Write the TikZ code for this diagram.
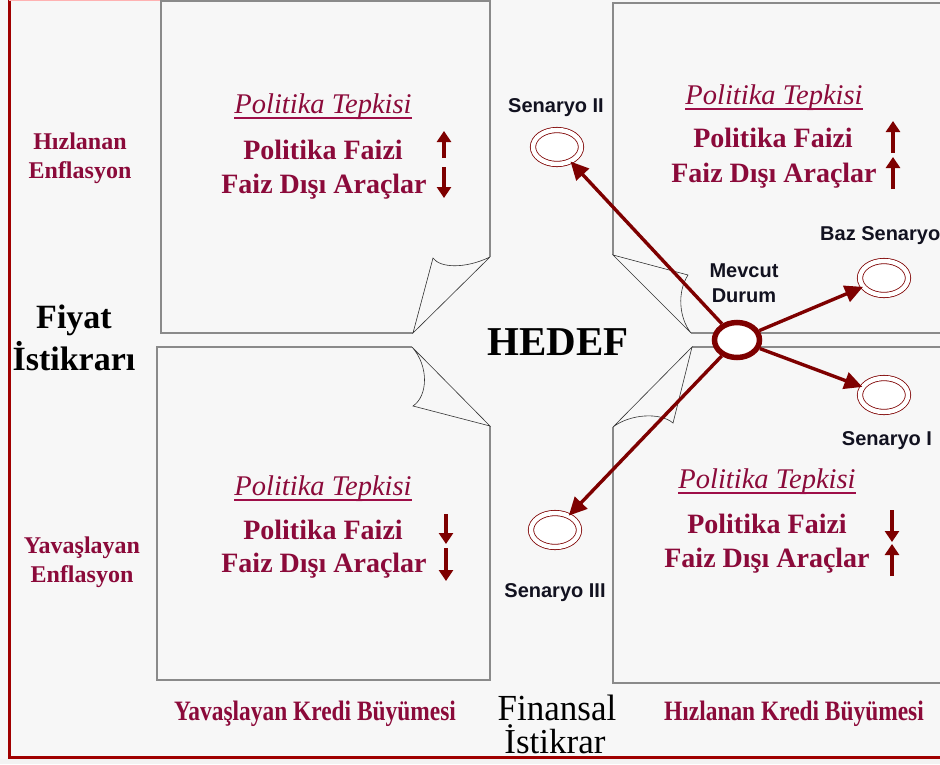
\documentclass[tikz,border=0pt]{standalone}
\usepackage{fontspec}
\setmainfont{Liberation Serif}
\newfontfamily\sansf{Liberation Sans}
\usetikzlibrary{shapes.geometric,arrows.meta}
\definecolor{crim}{HTML}{8B0A3A}
\definecolor{uline}{HTML}{9E0E48}
\definecolor{dred}{HTML}{7E0000}
\definecolor{bordred}{HTML}{A00000}
\definecolor{bg}{HTML}{F7F7F7}
\definecolor{bgl}{HTML}{F3F3F3}
\definecolor{boxgray}{HTML}{8A8A8A}
\definecolor{navy}{HTML}{121220}
\tikzset{
  boxline/.style={draw=boxgray,line width=1.6pt,line join=miter},
  foldline/.style={draw=black!80,line width=0.6pt},
  ptitle/.style={font=\fontsize{28.5}{30}\selectfont\itshape,text=crim,inner sep=0,anchor=base},
  pline/.style={font=\fontsize{28}{30}\selectfont\bfseries,text=crim,inner sep=0,anchor=base},
  ulinestyle/.style={draw=uline,line width=2.8pt},
  sidelbl/.style={font=\fontsize{24}{26}\selectfont\bfseries,text=crim,inner sep=0,anchor=base},
  biglbl/.style={font=\fontsize{34}{36}\selectfont\bfseries,text=black,inner sep=0,anchor=base},
  hedeflbl/.style={font=\fontsize{41}{43}\selectfont\bfseries,text=black,inner sep=0,anchor=base},
  botlbl/.style={font=\fontsize{26}{30}\selectfont\bfseries,text=crim,inner sep=0,anchor=base},
  finlbl/.style={font=\fontsize{35}{38}\selectfont,text=black,inner sep=0,anchor=base},
  sanslbl/.style={font=\sansf\bfseries\fontsize{20}{22}\selectfont,text=navy,inner sep=0,anchor=base},
  ind/.style={-{Triangle[width=14pt,length=11pt]},line width=3.6pt,draw=dred},
  scen/.style={ellipse,draw=dred,line width=0.8pt,double=white,double distance=4.5pt,fill=white,minimum width=48pt,minimum height=34pt,inner sep=0},
  mevstyle/.style={ellipse,draw=dred,line width=5.5pt,fill=white,minimum width=45pt,minimum height=35pt,inner sep=0},
  scarrow/.style={-{Triangle[width=17pt,length=18pt]},line width=3.4pt,draw=dred}
}
\begin{document}
\begin{tikzpicture}[x=1pt,y=-1pt]
\clip (0,0) rectangle (940,764);
\fill[bg] (0,0) rectangle (940,764);
\fill[bgl] (0,758.5) rectangle (940,764);
% outer border
\draw[bordred,line width=3pt] (9,-3) -- (9,757) -- (945,757);
\draw[red!30,line width=1.2pt] (9,0.6) -- (161,0.6);

% top-left page
\draw[boxline] (413,333) -- (161,333) -- (161,1) -- (490,1) -- (490,257);
\draw[foldline] (490,257) -- (413,333) -- (433,258) .. controls (440,268) and (465,269) .. (490,257);
% bottom-left page
\draw[boxline] (412,347) -- (157,347) -- (157,680) -- (490,680) -- (490,426);
\draw[foldline] (412,347) -- (490,426) -- (413,406) .. controls (428,396) and (429,366) .. (412,347);
% top-right page
\draw[boxline] (613,255) -- (613,3) -- (945,3);
\draw[boxline] (691,333) -- (945,333);
\draw[foldline] (613,255) -- (691,333) .. controls (679,318) and (677,292) .. (688,275) -- cycle;
% bottom-right page
\draw[boxline] (692,347) -- (945,347);
\draw[boxline] (613,427) -- (613,683) -- (945,683);
\draw[foldline] (613,427) -- (692,347) -- (673,423) .. controls (660,412) and (630,414) .. (613,427);

% top-left texts
\node[ptitle] (tlT) at (323,113) {Politika Tepkisi};
\draw[ulinestyle] ([yshift=-5pt]tlT.base west) -- ([yshift=-5pt]tlT.base east);
\node[pline] (tlA) at (323,159) {Politika Faizi};
\node[pline] (tlB) at (324,193) {Faiz Dışı Araçlar};
\draw[ind] (444,158) -- (444,131);
\draw[ind] (444,167) -- (444,198);

% top-right texts
\node[ptitle] (trT) at (774,104) {Politika Tepkisi};
\draw[ulinestyle] ([yshift=-5pt]trT.base west) -- ([yshift=-5pt]trT.base east);
\node[pline] (trA) at (773,147) {Politika Faizi};
\node[pline] (trB) at (774,182) {Faiz Dışı Araçlar};
\draw[ind] (893,153) -- (893,121);
\draw[ind] (893,189) -- (893,157);

% bottom-left texts
\node[ptitle] (blT) at (323,495) {Politika Tepkisi};
\draw[ulinestyle] ([yshift=-5pt]blT.base west) -- ([yshift=-5pt]blT.base east);
\node[pline] (blA) at (323,539) {Politika Faizi};
\node[pline] (blB) at (324,572) {Faiz Dışı Araçlar};
\draw[ind] (446,514) -- (446,544);
\draw[ind] (446,548) -- (446,581);

% bottom-right texts
\node[ptitle] (brT) at (767,488) {Politika Tepkisi};
\draw[ulinestyle] ([yshift=-5pt]brT.base west) -- ([yshift=-5pt]brT.base east);
\node[pline] (brA) at (767,533) {Politika Faizi};
\node[pline] (brB) at (767,567) {Faiz Dışı Araçlar};
\draw[ind] (892,510) -- (892,542);
\draw[ind] (892,576) -- (892,544);

% side labels
\node[sidelbl] (h1) at (80,149) {Hızlanan};
\node[sidelbl] (h2) at (80,178) {Enflasyon};
\node[biglbl] (f1) at (74,328) {Fiyat};
\node[biglbl] (f2) at (74,370) {İstikrarı};
\node[sidelbl] (y1) at (82,553) {Yavaşlayan};
\node[sidelbl] (y2) at (82,582) {Enflasyon};
\node[hedeflbl] (hedef) at (558,355) {HEDEF};

% bottom labels
\node[botlbl] (b1) at (315,720) {\scalebox{0.9}[1.08]{Yavaşlayan Kredi Büyümesi}};
\node[botlbl] (b2) at (794,720) {\scalebox{0.9}[1.08]{Hızlanan Kredi Büyümesi}};
\node[finlbl] (fin1) at (557,720) {\scalebox{1}[1.05]{Finansal}};
\node[finlbl] (fin2) at (555,753) {İstikrar};

% scenarios
\node[scen] (s2) at (557,147) {};
\node[scen] (s3) at (555,530) {};
\node[scen] (baz) at (884,278) {};
\node[scen] (s1) at (884,395) {};
\node[mevstyle] (mev) at (737,340) {};
\draw[scarrow] (mev) -- (s2);
\draw[scarrow] (mev) -- (s3);
\draw[scarrow] (mev) -- (baz);
\draw[scarrow] (mev) -- (s1);

\node[sanslbl] (ls2) at (556,112) {Senaryo II};
\node[sanslbl] (ls3) at (555,597) {Senaryo III};
\node[sanslbl] (ls1) at (887,445) {Senaryo I};
\node[sanslbl,anchor=base west] (lbaz) at (820,240) {Baz Senaryo};
\node[sanslbl] (lm1) at (744,277) {Mevcut};
\node[sanslbl] (lm2) at (744,302) {Durum};
\end{tikzpicture}
\end{document}
